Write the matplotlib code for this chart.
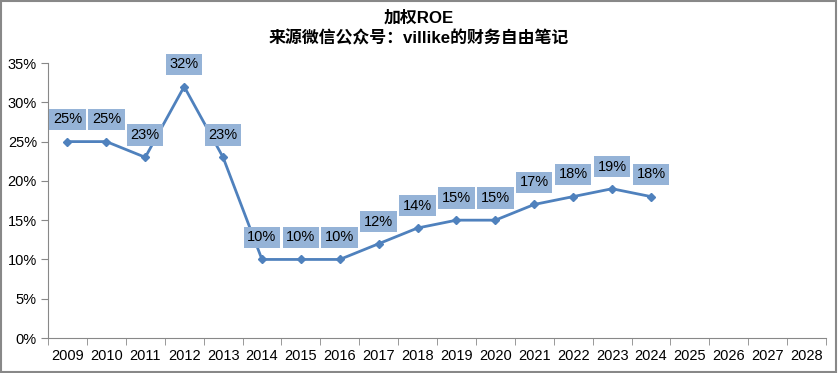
import numpy as np
import matplotlib.pyplot as plt
from matplotlib.patches import Rectangle

plt.rcParams['font.family'] = ['Liberation Sans', 'Noto Sans CJK SC', 'DejaVu Sans']

years = [str(y) for y in range(2009, 2029)]
roe = [25, 25, 23, 32, 23, 10, 10, 10, 12, 14, 15, 15, 17, 18, 19, 18]

fig = plt.figure(figsize=(8.38, 3.73), dpi=100)
ax = fig.add_axes([0.0573, 0.0938, 0.9284, 0.7372])

x = np.arange(len(roe))
ax.plot(x, roe, color='#4F81BD', lw=2, marker='D', ms=4.5)

for xi, v in zip(x, roe):
    ax.annotate('%d%%' % v, (xi, v), xytext=(0, 16), textcoords='offset points',
                ha='center', va='center', fontsize=10.5, color='black',
                bbox=dict(boxstyle='square,pad=0.25', fc='#95B3D7', ec='none'))

ax.set_xlim(-0.5, len(years) - 0.5)
ax.set_ylim(0, 35)
ax.set_yticks(range(0, 36, 5))
ax.set_yticklabels(['%d%%' % t for t in range(0, 36, 5)], fontsize=10.5)
ax.set_xticks(np.arange(len(years)))
ax.set_xticklabels(years, fontsize=10.5)
ax.set_xticks(np.arange(len(years) + 1) - 0.5, minor=True)
ax.tick_params(axis='x', which='major', length=0, pad=8)
ax.tick_params(axis='x', which='minor', length=5, color='#888888', direction='out')
ax.tick_params(axis='y', length=5, color='#888888', direction='out', pad=3)

for s in ['top', 'right']:
    ax.spines[s].set_visible(False)
for s in ['left', 'bottom']:
    ax.spines[s].set_color('#888888')

fig.text(0.5, 0.952, '加权ROE', ha='center', va='center', fontsize=12.2,
         fontweight='bold', family=['Liberation Sans', 'Noto Sans CJK SC'])
fig.text(0.5, 0.898, '来源微信公众号：villike的财务自由笔记', ha='center', va='center',
         fontsize=12.2, fontweight='bold', family=['Liberation Sans', 'Noto Sans CJK SC'])

fig.patches.append(Rectangle((0.001, 0.002), 0.997, 0.995, transform=fig.transFigure,
                             fill=False, ec='#888888', lw=1.5))

fig.savefig('out.png', dpi=100)
